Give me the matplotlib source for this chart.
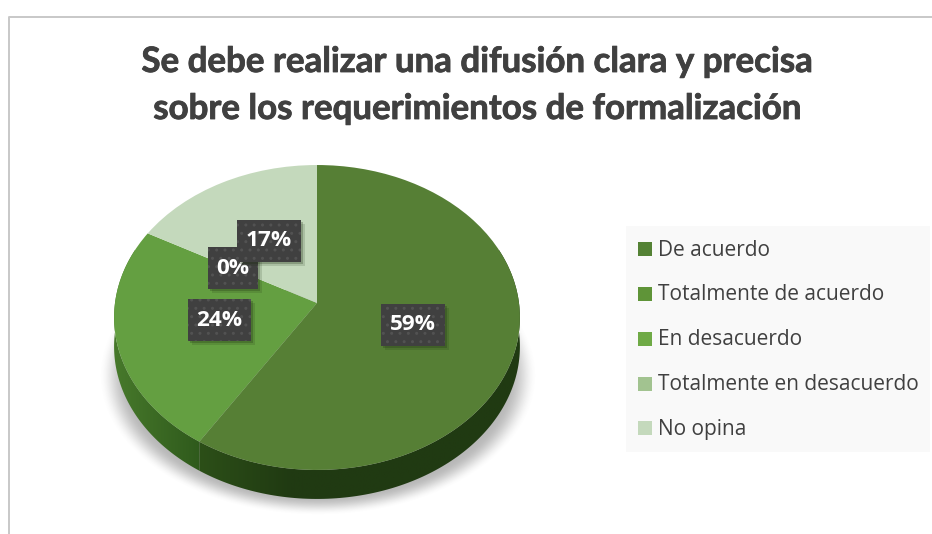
import matplotlib
matplotlib.use('Agg')
import matplotlib.pyplot as plt
import matplotlib.patheffects as pe
from matplotlib.patches import Rectangle, Polygon
from matplotlib.transforms import Transform
import numpy as np

title = 'Se debe realizar una difusión clara y precisa\nsobre los requerimientos de formalización'
categories = ['De acuerdo', 'Totalmente de acuerdo', 'En desacuerdo',
              'Totalmente en desacuerdo', 'No opina']
values = [59, 0, 24, 0, 17]
labels = ['59%', '', '24%', '0%', '17%']

top_colors = ['#567f35', '#5f9438', '#649f41', '#a2c390', '#c4d9bc']
legend_colors = ['#548235', '#5f9438', '#6faa46', '#a2c390', '#c4d9bc']
side_left = ['#2c4f18', '#2c4f18', '#47792b', '#47792b', '#47792b']
side_right = ['#203a12', '#203a12', '#2f5a1c', '#2f5a1c', '#2f5a1c']
side_speed = [3.5, 1, 1, 1, 1]

# label box centres and widths, placed by hand like in the original
label_pos = [(413, 325), None, (219.5, 320), (233, 268), (269, 241)]
label_w = [64, 0, 63, 50, 64]
text_color = '#404040'

# pie geometry in pixels
cx, cy = 317, 303
half_w = 202
k_a, k_c = -122.3, 0.095
depth = 29


def project_xy(X, Y, dy=0):
    d = k_c * Y + 1
    return cx + X * half_w / d, (k_a * Y + cy) / d + dy


class Tilt(Transform):
    # perspective look of the tilted pie, unit circle -> pixels
    input_dims = 2
    output_dims = 2
    has_inverse = False

    def transform_non_affine(self, values):
        v = np.asarray(values)
        x, y = project_xy(v[:, 0], v[:, 1])
        return np.column_stack([x, y])


fig = plt.figure(figsize=(9.32, 5.34), dpi=100)
ax = fig.add_axes([0, 0, 1, 1])
ax.set_xlim(0, 932)
ax.set_ylim(534, 0)
ax.axis('off')

# chart border
ax.plot([8.8, 8.8, 932], [534, 16.8, 16.8], color='#c8c8c8', lw=1.4, zorder=1)

bold = [pe.Stroke(linewidth=0.6, foreground=text_color), pe.Normal()]
for line, y in zip(title.split('\n'), [62, 109]):
    ax.text(477, y, line, ha='center', va='center', fontsize=25.1, fontweight='bold',
            family='Lato', color=text_color, path_effects=bold)

# soft shadow under the pie
gx, gy = np.meshgrid(np.arange(90, 545), np.arange(290, 525))
r = np.sqrt(((gx - 317.5) / 219) ** 2 + ((gy - 375) / 140) ** 2)
fade = np.clip((1 - r) / 0.13, 0, 1)
shade = np.zeros(r.shape + (4,))
shade[..., :3] = 0.45
shade[..., 3] = 0.5 * fade * fade * (3 - 2 * fade)
ax.imshow(shade, extent=[90, 545, 525, 290], aspect='auto', zorder=2)

# side wall
start = 0
for i, v in enumerate(values):
    if v == 0:
        continue
    t = np.radians(np.linspace(start, start + v * 3.6, 200))
    X, Y = np.sin(t), np.cos(t)
    x0, y0 = project_xy(X, Y)
    x1, y1 = project_xy(X, Y, depth)
    pts = np.column_stack([np.r_[x0, x1[::-1]], np.r_[y0, y1[::-1]]])
    poly = Polygon(pts, fc='none', ec='none', zorder=3)
    ax.add_patch(poly)
    lo, hi = pts[:, 0].min(), pts[:, 0].max()
    c0 = np.array(matplotlib.colors.to_rgb(side_left[i]))
    c1 = np.array(matplotlib.colors.to_rgb(side_right[i]))
    ramp = np.clip(np.linspace(0, 1, 200) * side_speed[i], 0, 1)
    img = ax.imshow(c0 + (c1 - c0) * ramp[None, :, None], extent=[lo, hi, 520, 250],
                    aspect='auto', zorder=3)
    img.set_clip_path(poly)
    start += v * 3.6

# top face
wedges, _ = ax.pie(values, colors=top_colors, startangle=90, counterclock=False, radius=1,
                   wedgeprops={'linewidth': 0})
tilt = Tilt()
for w in wedges:
    w.set_transform(tilt + ax.transData)
    w.set_zorder(4)
ax.set_aspect('auto')
ax.set_xlim(0, 932)
ax.set_ylim(534, 0)
ax.axis('off')

# data labels
plt.rcParams['hatch.linewidth'] = 1.0
for i, lab in enumerate(labels):
    if not lab:
        continue
    x, y = label_pos[i]
    w = label_w[i]
    z = 5 + i * 0.1
    under = Rectangle((x - w / 2, y - 21), w, 42, fc='#404040', ec='none', zorder=z)
    under.set_path_effects([
        pe.SimplePatchShadow(offset=(3, -3), shadow_rgbFace='#1c2c10', alpha=0.15),
        pe.SimplePatchShadow(offset=(1.5, -1.5), shadow_rgbFace='#1c2c10', alpha=0.25),
        pe.Normal()])
    ax.add_patch(under)
    ax.add_patch(Rectangle((x - w / 2, y - 21), w, 42, fc='none', ec='#525252', lw=0,
                           hatch='..', zorder=z))
    ax.text(x, y, lab, ha='center', va='center', fontsize=16.2, fontweight='bold',
            family='Open Sans', color='white', zorder=z)

# legend
ax.add_patch(Rectangle((626, 226), 304, 226, fc='#f9f9f9', ec='none', zorder=2))
legend_y = [249, 294, 338.5, 383.5, 428]
for name, col, y in zip(categories, legend_colors, legend_y):
    ax.add_patch(Rectangle((638, y - 7), 14, 14, fc=col, ec='none', zorder=3))
    ax.text(658, y + 1, name, ha='left', va='center', fontsize=15, family='Open Sans',
            color=text_color, zorder=3)

fig.savefig('out.png', dpi=100)
